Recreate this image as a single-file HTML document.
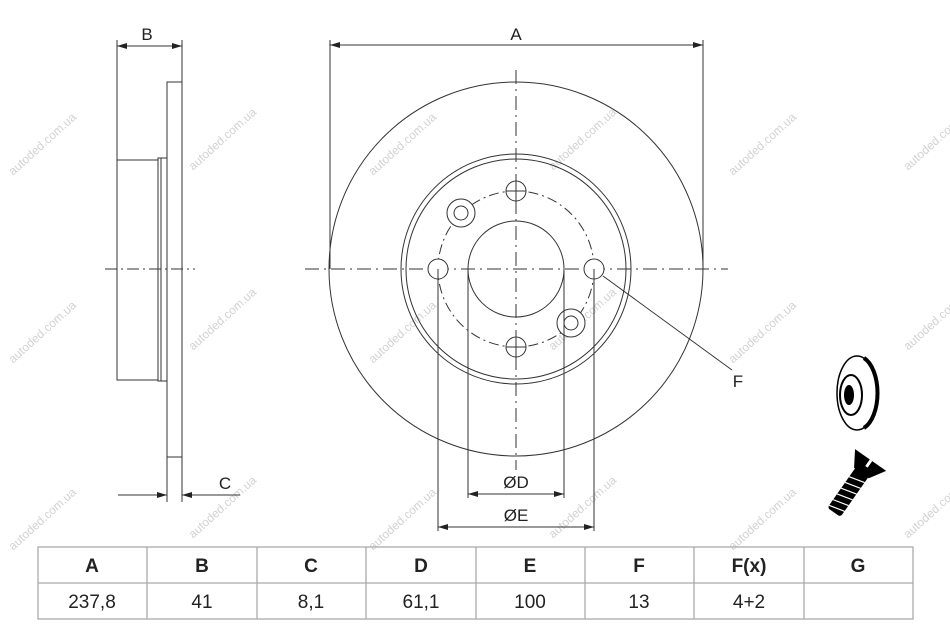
<!DOCTYPE html>
<html><head><meta charset="utf-8"><style>
html,body{margin:0;padding:0;background:#fff;}
svg{display:block;font-family:"Liberation Sans",sans-serif;}
.wm{font-size:12px;fill:#d2d2d2;}
</style></head><body>
<svg width="950" height="634" viewBox="0 0 950 634" xmlns="http://www.w3.org/2000/svg">
<defs>
<marker id="ar" viewBox="0 0 10 6" refX="10" refY="3" markerWidth="10" markerHeight="6" orient="auto-start-reverse" markerUnits="userSpaceOnUse"><path d="M0,0 L10,3 L0,6z" fill="#222"/></marker>
</defs>
<g class="wm">
<text transform="translate(45,147) rotate(-42)" text-anchor="middle">autoded.com.ua</text>
<text transform="translate(225,142) rotate(-42)" text-anchor="middle">autoded.com.ua</text>
<text transform="translate(405,147) rotate(-42)" text-anchor="middle">autoded.com.ua</text>
<text transform="translate(585,142) rotate(-42)" text-anchor="middle">autoded.com.ua</text>
<text transform="translate(765,147) rotate(-42)" text-anchor="middle">autoded.com.ua</text>
<text transform="translate(940,142) rotate(-42)" text-anchor="middle">autoded.com.ua</text>
<text transform="translate(45,335) rotate(-42)" text-anchor="middle">autoded.com.ua</text>
<text transform="translate(225,322) rotate(-42)" text-anchor="middle">autoded.com.ua</text>
<text transform="translate(405,335) rotate(-42)" text-anchor="middle">autoded.com.ua</text>
<text transform="translate(585,322) rotate(-42)" text-anchor="middle">autoded.com.ua</text>
<text transform="translate(765,335) rotate(-42)" text-anchor="middle">autoded.com.ua</text>
<text transform="translate(940,322) rotate(-42)" text-anchor="middle">autoded.com.ua</text>
<text transform="translate(45,522) rotate(-42)" text-anchor="middle">autoded.com.ua</text>
<text transform="translate(225,510) rotate(-42)" text-anchor="middle">autoded.com.ua</text>
<text transform="translate(405,522) rotate(-42)" text-anchor="middle">autoded.com.ua</text>
<text transform="translate(585,510) rotate(-42)" text-anchor="middle">autoded.com.ua</text>
<text transform="translate(765,522) rotate(-42)" text-anchor="middle">autoded.com.ua</text>
<text transform="translate(940,510) rotate(-42)" text-anchor="middle">autoded.com.ua</text>
</g>

<g stroke="#333" stroke-width="1" fill="none">
<line x1="117" y1="40" x2="117" y2="160"/>
<line x1="182" y1="40" x2="182" y2="82"/>
<line x1="117" y1="46" x2="182" y2="46" marker-start="url(#ar)" marker-end="url(#ar)"/>
<rect x="167" y="82" width="15" height="375"/>
<rect x="117" y="160" width="41" height="220"/>
<rect x="158" y="158" width="9" height="223"/>
<line x1="161" y1="158" x2="161" y2="381"/>
<line x1="167" y1="457" x2="167" y2="502"/>
<line x1="182" y1="457" x2="182" y2="502"/>
<line x1="118" y1="495" x2="167" y2="495" marker-end="url(#ar)"/>
<line x1="240" y1="495" x2="182" y2="495" marker-end="url(#ar)"/>
<line x1="105" y1="269" x2="195" y2="269" stroke-dasharray="12,4,2,4"/>

<line x1="330" y1="40" x2="330" y2="269"/>
<line x1="703" y1="40" x2="703" y2="269"/>
<line x1="330" y1="45" x2="703" y2="45" marker-start="url(#ar)" marker-end="url(#ar)"/>
<circle cx="516" cy="269" r="187"/>
<circle cx="516" cy="269" r="115"/>
<circle cx="516" cy="269" r="110"/>
<circle cx="516" cy="269" r="48"/>
<circle cx="516" cy="269" r="78" stroke-dasharray="10,4,2,4"/>
<line x1="305" y1="269" x2="728" y2="269" stroke-dasharray="14,5,2,5"/>
<line x1="516" y1="70" x2="516" y2="470" stroke-dasharray="14,5,2,5"/>
<circle cx="516" cy="191" r="10" fill="#fff"/>
<circle cx="516" cy="347" r="10" fill="#fff"/>
<circle cx="438" cy="269" r="10" fill="#fff"/>
<circle cx="594" cy="269" r="10" fill="#fff"/>
<circle cx="461" cy="213" r="14" fill="#fff"/>
<circle cx="461" cy="213" r="7"/>
<circle cx="571" cy="323" r="14" fill="#fff"/>
<circle cx="571" cy="323" r="7"/>
<line x1="506" y1="191" x2="526" y2="191"/><line x1="516" y1="181" x2="516" y2="201"/>
<line x1="506" y1="347" x2="526" y2="347"/><line x1="516" y1="337" x2="516" y2="357"/>
<line x1="438" y1="269" x2="438" y2="531"/>
<line x1="594" y1="269" x2="594" y2="531"/>
<line x1="468" y1="269" x2="468" y2="498"/>
<line x1="564" y1="269" x2="564" y2="498"/>
<line x1="468" y1="494" x2="564" y2="494" marker-start="url(#ar)" marker-end="url(#ar)"/>
<line x1="438" y1="527" x2="594" y2="527" marker-start="url(#ar)" marker-end="url(#ar)"/>
<line x1="603" y1="276" x2="732" y2="370"/>
</g>
<g fill="#222" font-size="17">
<text x="147" y="40" text-anchor="middle">B</text>
<text x="516" y="40" text-anchor="middle">A</text>
<text x="225" y="489" text-anchor="middle">C</text>
<text x="516" y="488" text-anchor="middle">ØD</text>
<text x="516" y="521" text-anchor="middle">ØE</text>
<text x="738" y="387" text-anchor="middle">F</text>
</g>

<g>
<ellipse cx="857" cy="393" rx="20" ry="37" fill="#fff" stroke="#000" stroke-width="1.5"/>
<path d="M864 358 A20 37 0 0 1 864 428" stroke="#000" stroke-width="4" fill="none"/>
<ellipse cx="851" cy="395" rx="11" ry="20" fill="#fff" stroke="#000" stroke-width="2"/>
<ellipse cx="849" cy="395" rx="5" ry="10" fill="#000"/>
</g>
<g transform="translate(858,478) rotate(125)">
<polygon points="-22,-19 -22,19 -6,9 -6,-9" fill="#000"/>
<rect x="-22" y="-2" width="8" height="3" fill="#fff"/>
<rect x="-8" y="-8" width="50" height="16" rx="3" fill="#000"/>
<g stroke="#fff" stroke-width="1.2">
<line x1="0" y1="-8" x2="4" y2="8"/><line x1="7" y1="-8" x2="11" y2="8"/><line x1="14" y1="-8" x2="18" y2="8"/><line x1="21" y1="-8" x2="25" y2="8"/><line x1="28" y1="-8" x2="32" y2="8"/><line x1="35" y1="-8" x2="39" y2="8"/>
</g>
</g>

<g stroke="#aaa" stroke-width="1.3" fill="none">
<rect x="38" y="547" width="875" height="72"/>
<line x1="38" y1="583" x2="913" y2="583"/>
<line x1="147" y1="547" x2="147" y2="619"/>
<line x1="257" y1="547" x2="257" y2="619"/>
<line x1="366" y1="547" x2="366" y2="619"/>
<line x1="476" y1="547" x2="476" y2="619"/>
<line x1="585" y1="547" x2="585" y2="619"/>
<line x1="694" y1="547" x2="694" y2="619"/>
<line x1="804" y1="547" x2="804" y2="619"/>
</g>
<g fill="#222" font-size="19" text-anchor="middle" font-weight="bold">
<text x="92" y="572">A</text><text x="202" y="572">B</text><text x="311" y="572">C</text><text x="421" y="572">D</text><text x="530" y="572">E</text><text x="639" y="572">F</text><text x="749" y="572">F(x)</text><text x="858" y="572">G</text>
</g>
<g fill="#222" font-size="19" text-anchor="middle">
<text x="92" y="608">237,8</text><text x="202" y="608">41</text><text x="311" y="608">8,1</text><text x="421" y="608">61,1</text><text x="530" y="608">100</text><text x="639" y="608">13</text><text x="749" y="608">4+2</text>
</g>
</svg>
</body></html>
